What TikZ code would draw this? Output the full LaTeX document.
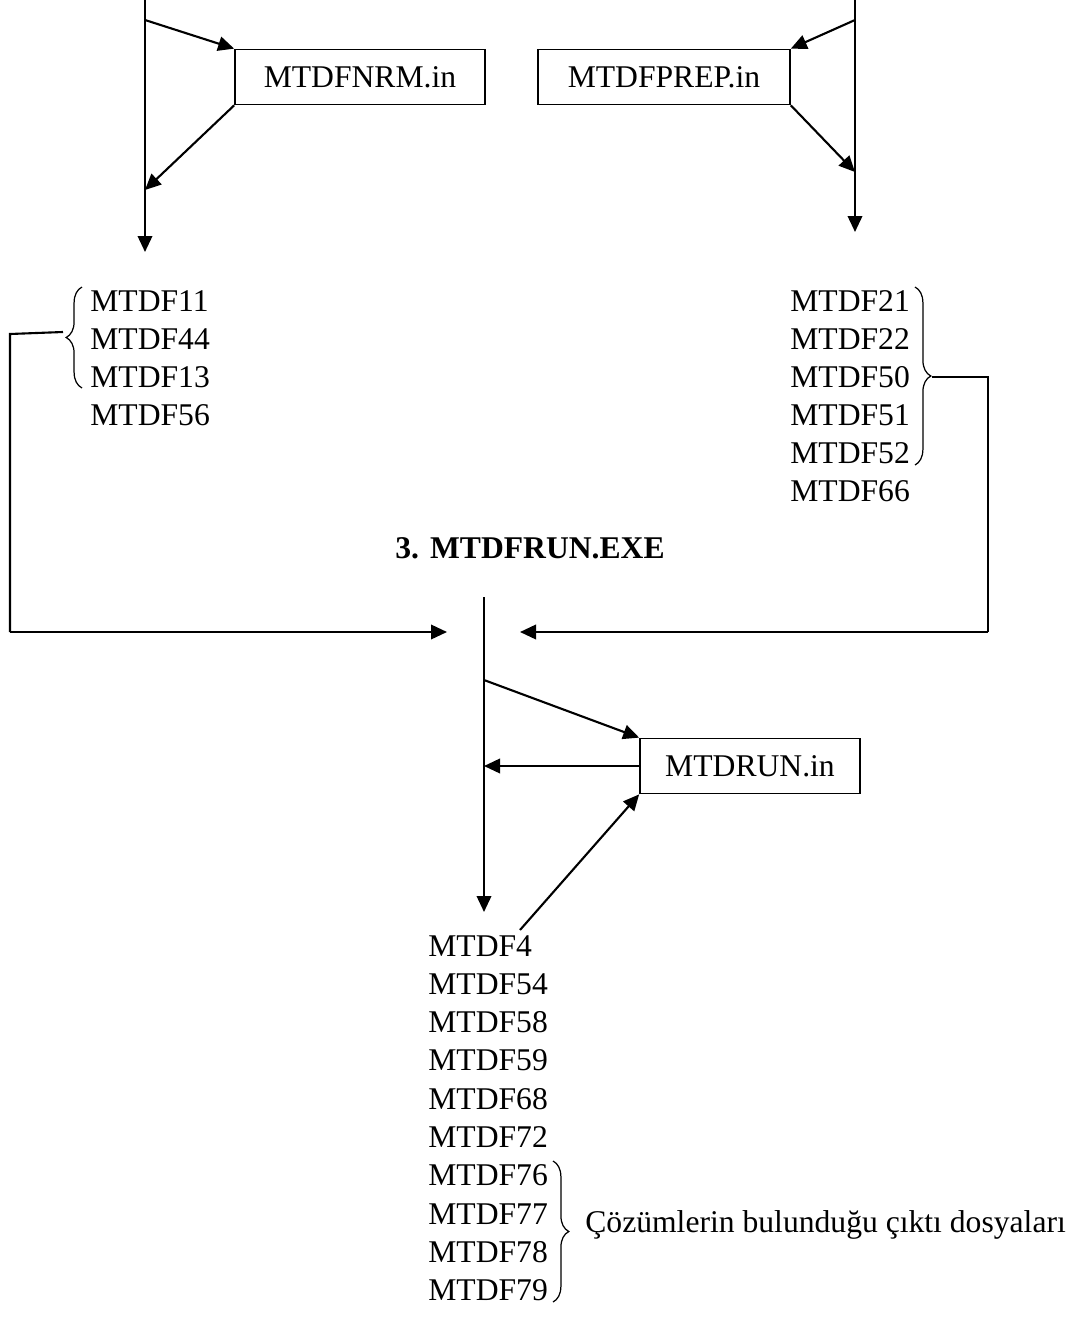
\documentclass[tikz,border=0pt]{standalone}
\usepackage{fontspec}
\setmainfont{Liberation Serif}
\usetikzlibrary{arrows.meta,decorations.pathreplacing}

\tikzset{
	flow/.style={line width=1.2pt,-{Triangle[length=0.32cm,width=0.29cm]}},
	wire/.style={line width=1.2pt},
	filebox/.style={draw,line width=1pt,minimum height=1.1cm,inner sep=0pt},
	lbl/.style={font=\fontsize{18}{21.6}\selectfont,inner sep=0pt,anchor=base west},
	curly/.style={line width=0.7pt,decorate,decoration={brace,amplitude=#1}}
}

\begin{document}
\begin{tikzpicture}[x=0.02cm,y=-0.02cm]

			\useasboundingbox (0,0) rectangle (1086,1328);

			% input files of the two first programs
			\node[filebox,minimum width=5cm,font=\fontsize{18}{21.6}\selectfont] (nrm) at (360,77) {MTDFNRM.in};
			\node[filebox,minimum width=5.04cm,font=\fontsize{18}{21.6}\selectfont] (prep) at (664,77) {MTDFPREP.in};

			\coordinate (ltop) at (145,0);
			\coordinate (lout) at (145,20);
			\coordinate (lin) at (145,190);
			\coordinate (lend) at (145,252);
			\coordinate (rtop) at (855,0);
			\coordinate (rout) at (855,20);
			\coordinate (rin) at (855,172);
			\coordinate (rend) at (855,232);

			\draw[flow] (ltop) -- (lend);
			\draw[flow] (lout) -- (nrm.north west);
			\draw[flow] (nrm.south west) -- (lin);
			\draw[flow] (rtop) -- (rend);
			\draw[flow] (rout) -- (prep.north east);
			\draw[flow] (prep.south east) -- (rin);

			% output lists
			\foreach \f [count=\i from 0] in {11,44,13,56}
				\node[lbl] (a\f) at (90,311+38*\i) {MTDF\f};
			\foreach \f [count=\i from 0] in {21,22,50,51,52,66}
				\node[lbl] (b\f) at (790,311+38*\i) {MTDF\f};

			\draw[curly=9pt] (82,388) -- (82,287);
			\draw[curly=9pt] (915,287) -- (915,465);

			% third program
			\node[font=\fontsize{18}{21.6}\selectfont\bfseries] (exe) at (530,548) {3.\hspace{0.22cm}MTDFRUN.EXE};
			\node[filebox,minimum width=4.4cm,font=\fontsize{18}{21.6}\selectfont] (run) at (750,766) {MTDRUN.in};

			\coordinate (ctop) at (484,597);
			\coordinate (cout) at (484,680);
			\coordinate (cend) at (484,912);
			\coordinate (lhit) at (447,632);
			\coordinate (rhit) at (520,632);
			\coordinate (res) at (520,930);

			\draw[wire] (63,332) -- (10,334) -- (10,632);
			\draw[flow] (10,632) -- (lhit);
			\draw[wire] (932,377) -- (988,377) -- (988,632);
			\draw[flow] (988,632) -- (rhit);

			\draw[flow] (ctop) -- (cend);
			\draw[flow] (cout) -- (run.north west);
			\draw[flow] (run.west) -- (run.west -| ctop);
			\draw[flow] (res) -- (run.south west);

			% result files
			\foreach \f [count=\i from 0] in {4,54,58,59,68,72,76,77,78,79}
				\node[lbl] (c\f) at (428,956+38.3*\i) {MTDF\f};
			\draw[curly=9pt] (553,1161) -- (553,1302);
			\node[lbl] (note) at (585,1232) {Çözümlerin bulunduğu çıktı dosyaları};

		\end{tikzpicture}
\end{document}
